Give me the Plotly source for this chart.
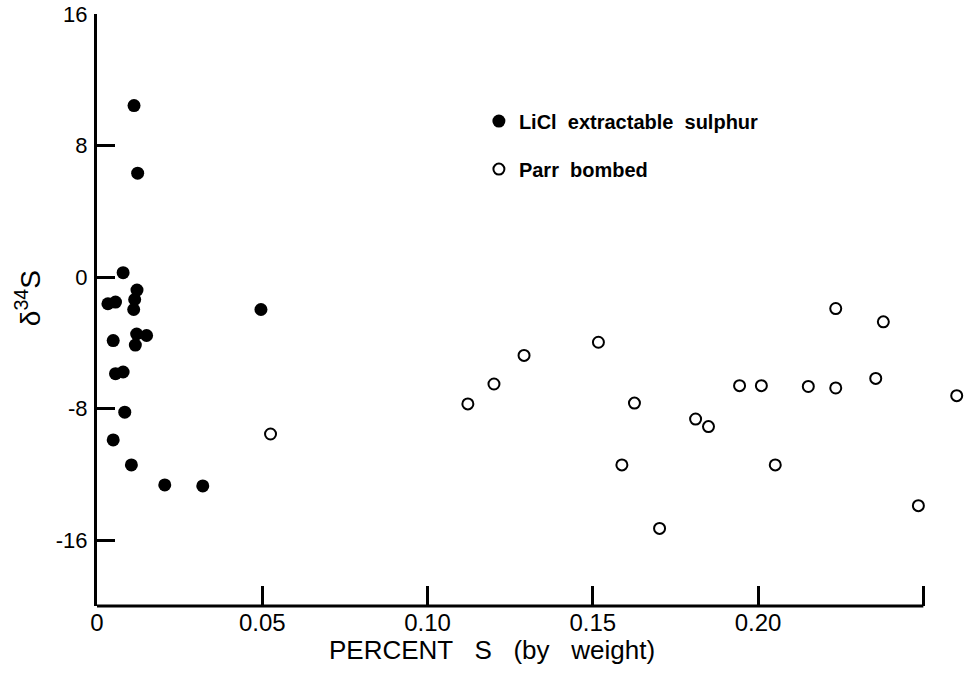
import plotly.graph_objects as go

# LiCl extractable sulphur (filled)
licl_x = [0.0112, 0.0123, 0.0079, 0.0121, 0.0114, 0.0111, 0.0033, 0.0056,
          0.0496, 0.0120, 0.0150, 0.0116, 0.0049, 0.0056, 0.0079, 0.0084,
          0.0049, 0.0104, 0.0205, 0.0320]
licl_y = [10.43, 6.32, 0.27, -0.79, -1.36, -1.97, -1.62, -1.52,
          -1.97, -3.46, -3.55, -4.13, -3.86, -5.87, -5.77, -8.21,
          -9.90, -11.42, -12.64, -12.70]

# Parr bombed (open)
parr_x = [0.0525, 0.1122, 0.1201, 0.1292, 0.1517, 0.1588, 0.1626, 0.1702,
          0.1811, 0.1850, 0.1944, 0.2010, 0.2052, 0.2152, 0.2235, 0.2235,
          0.2356, 0.2379, 0.2485, 0.2601]
parr_y = [-9.54, -7.71, -6.50, -4.76, -3.96, -11.42, -7.66, -15.28,
          -8.63, -9.09, -6.60, -6.60, -11.42, -6.65, -1.91, -6.74,
          -6.16, -2.72, -13.90, -7.21]

x_tickvals = [0, 0.05, 0.10, 0.15, 0.20, 0.25]
x_ticktext = ["0", "0.05", "0.10", "0.15", "0.20", ""]
x_axis_end = 0.25
y_tickvals = [-16, -8, 0, 8, 16]
y_ticktext = ["-16", "-8", "0", "8", "16"]

FONT = "Liberation Sans, Arial, sans-serif"

fig = go.Figure()
fig.add_trace(go.Scatter(
    x=licl_x, y=licl_y, mode="markers", name="LiCl  extractable  sulphur",
    legendgroup="a",
    marker=dict(symbol="circle", size=13, color="black", line=dict(width=0)),
    cliponaxis=False,
))
fig.add_trace(go.Scatter(
    x=parr_x, y=parr_y, mode="markers", name="Parr  bombed",
    legendgroup="b",
    marker=dict(symbol="circle-open", size=11, color="black", line=dict(width=2)),
    cliponaxis=False,
))

fig.update_layout(
    width=969, height=694,
    margin=dict(l=97, r=6, t=14, b=88, autoexpand=False),
    paper_bgcolor="white", plot_bgcolor="white",
    font=dict(family=FONT, color="black"),
    showlegend=True,
    legend=dict(
        x=0.441, y=0.852, xanchor="left", yanchor="top",
        bgcolor="rgba(0,0,0,0)", borderwidth=0,
        font=dict(size=20, family=FONT, color="black", weight="bold"),
        tracegroupgap=19, itemwidth=30,
    ),
    xaxis=dict(
        range=[0, 0.262], showgrid=False, zeroline=False, automargin=False,
        showline=False, ticklabeloverflow="allow",
        ticks="inside", ticklen=20, tickwidth=2.5, tickcolor="black",
        tickvals=x_tickvals, ticktext=x_ticktext,
        tickfont=dict(size=24, family=FONT, color="black"),
        ticklabelstandoff=0,
    ),
    yaxis=dict(
        range=[-20, 16.001], showgrid=False, zeroline=False, automargin=False,
        showline=True, linecolor="black", linewidth=3, ticklabeloverflow="allow",
        ticks="inside", ticklen=18, tickwidth=2.5, tickcolor="black",
        tickvals=y_tickvals, ticktext=y_ticktext,
        tickfont=dict(size=22, family=FONT, color="black"),
        ticklabelstandoff=2,
    ),
    shapes=[
        dict(type="line", xref="x", yref="paper", x0=0, x1=x_axis_end,
             y0=0, y1=0, line=dict(color="black", width=3), layer="above"),
    ],
    annotations=[
        dict(text="PERCENT   S   (by   weight)", xref="paper", yref="paper",
             x=0.456, y=-0.074, xanchor="center", yanchor="middle",
             showarrow=False, font=dict(size=26, family=FONT, color="black")),
        dict(text="δ<sup>34</sup>S", xref="paper", yref="paper",
             x=-0.0797, y=0.52, xanchor="center", yanchor="middle",
             textangle=-90, showarrow=False,
             font=dict(size=28, family=FONT, color="black")),
    ],
)

fig.write_html(
    "out.html",
    config={"displayModeBar": False},
    post_script="document.body.style.margin='0';document.body.style.overflow='hidden';",
)
